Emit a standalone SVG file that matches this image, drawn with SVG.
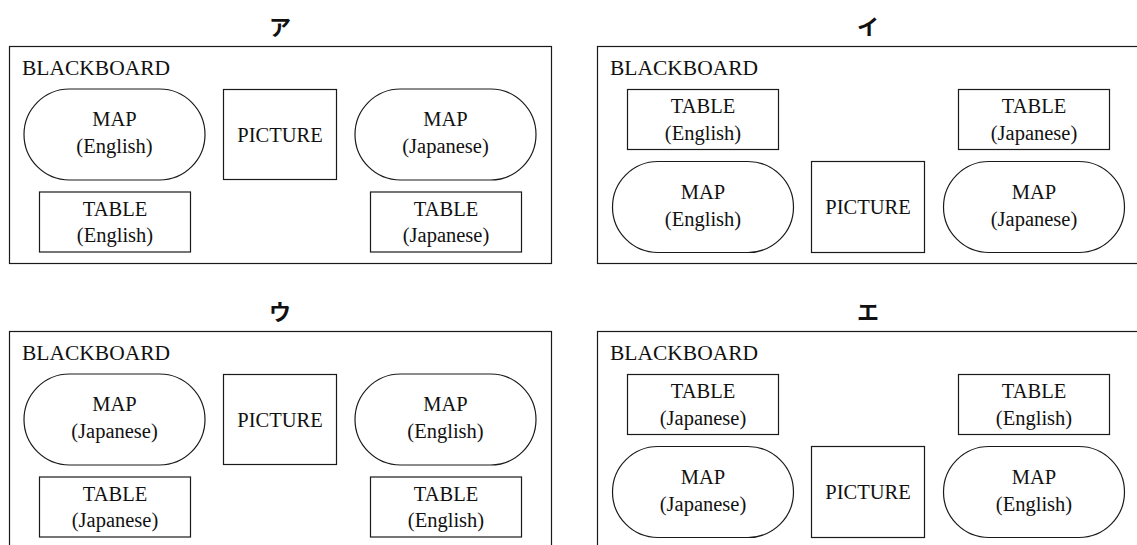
<svg xmlns="http://www.w3.org/2000/svg" width="1137" height="545" viewBox="0 0 1137 545">
<style>
.bg{fill:#fff}
.box{fill:none;stroke:#1a1a1a;stroke-width:1.2}
.node{fill:#fff;stroke:#1a1a1a;stroke-width:1.2}
.t{font-family:"Liberation Serif","Times New Roman","DejaVu Serif",serif;font-size:20.5px;fill:#111;text-anchor:middle}
.bb{font-family:"Liberation Serif","Times New Roman","DejaVu Serif",serif;font-size:21.5px;fill:#111}
.title{font-family:"Noto Sans CJK JP","Noto Sans",sans-serif;font-size:22px;font-weight:700;fill:#111;text-anchor:middle}
</style>
<rect class="bg" x="0" y="0" width="1137" height="545"/>

<!-- Panel ア -->
<g id="panel-a">
  <text class="title" x="280" y="35">ア</text>
  <rect class="box" x="9.5" y="46.5" width="542" height="217"/>
  <text class="bb" x="22" y="75" font-family="Liberation Serif, serif">BLACKBOARD</text>
  <g id="a-map-en"><rect class="node" x="24" y="89" width="181" height="91" rx="45.5" ry="45.5"/><text class="t" x="114.5" y="126">MAP</text><text class="t" x="114.5" y="153">(English)</text></g>
  <g id="a-picture"><rect class="node" x="223.5" y="89.5" width="113" height="90"/><text class="t" x="280" y="142">PICTURE</text></g>
  <g id="a-map-ja"><rect class="node" x="355" y="89" width="181" height="91" rx="45.5" ry="45.5"/><text class="t" x="445.5" y="126">MAP</text><text class="t" x="445.5" y="153">(Japanese)</text></g>
  <g id="a-table-en"><rect class="node" x="39.5" y="192" width="151" height="60"/><text class="t" x="115" y="215.5">TABLE</text><text class="t" x="115" y="242">(English)</text></g>
  <g id="a-table-ja"><rect class="node" x="370.5" y="192" width="151" height="60"/><text class="t" x="446" y="215.5">TABLE</text><text class="t" x="446" y="242">(Japanese)</text></g>
</g>

<!-- Panel イ -->
<g id="panel-i" transform="translate(588,0)">
  <text class="title" x="280" y="35">イ</text>
  <rect class="box" x="9.5" y="46.5" width="542" height="217"/>
  <text class="bb" x="22" y="75">BLACKBOARD</text>
  <g id="i-table-en"><rect class="node" x="39.5" y="89.5" width="151" height="60"/><text class="t" x="115" y="113">TABLE</text><text class="t" x="115" y="139.5">(English)</text></g>
  <g id="i-table-ja"><rect class="node" x="370.5" y="89.5" width="151" height="60"/><text class="t" x="446" y="113">TABLE</text><text class="t" x="446" y="139.5">(Japanese)</text></g>
  <g id="i-map-en"><rect class="node" x="24.5" y="161.5" width="181" height="91" rx="45.5" ry="45.5"/><text class="t" x="115" y="198.5">MAP</text><text class="t" x="115" y="225.5">(English)</text></g>
  <g id="i-picture"><rect class="node" x="223.5" y="161.5" width="113" height="91"/><text class="t" x="280" y="214">PICTURE</text></g>
  <g id="i-map-ja"><rect class="node" x="355.5" y="161.5" width="181" height="91" rx="45.5" ry="45.5"/><text class="t" x="446" y="198.5">MAP</text><text class="t" x="446" y="225.5">(Japanese)</text></g>
</g>

<!-- Panel ウ -->
<g id="panel-u" transform="translate(0,285)">
  <text class="title" x="280" y="35">ウ</text>
  <rect class="box" x="9.5" y="46.5" width="542" height="217"/>
  <text class="bb" x="22" y="75">BLACKBOARD</text>
  <g id="u-map-ja"><rect class="node" x="24" y="89" width="181" height="91" rx="45.5" ry="45.5"/><text class="t" x="114.5" y="126">MAP</text><text class="t" x="114.5" y="153">(Japanese)</text></g>
  <g id="u-picture"><rect class="node" x="223.5" y="89.5" width="113" height="90"/><text class="t" x="280" y="142">PICTURE</text></g>
  <g id="u-map-en"><rect class="node" x="355" y="89" width="181" height="91" rx="45.5" ry="45.5"/><text class="t" x="445.5" y="126">MAP</text><text class="t" x="445.5" y="153">(English)</text></g>
  <g id="u-table-ja"><rect class="node" x="39.5" y="192" width="151" height="60"/><text class="t" x="115" y="215.5">TABLE</text><text class="t" x="115" y="242">(Japanese)</text></g>
  <g id="u-table-en"><rect class="node" x="370.5" y="192" width="151" height="60"/><text class="t" x="446" y="215.5">TABLE</text><text class="t" x="446" y="242">(English)</text></g>
</g>

<!-- Panel エ -->
<g id="panel-e" transform="translate(588,285)">
  <text class="title" x="280" y="35">エ</text>
  <rect class="box" x="9.5" y="46.5" width="542" height="217"/>
  <text class="bb" x="22" y="75">BLACKBOARD</text>
  <g id="e-table-ja"><rect class="node" x="39.5" y="89.5" width="151" height="60"/><text class="t" x="115" y="113">TABLE</text><text class="t" x="115" y="139.5">(Japanese)</text></g>
  <g id="e-table-en"><rect class="node" x="370.5" y="89.5" width="151" height="60"/><text class="t" x="446" y="113">TABLE</text><text class="t" x="446" y="139.5">(English)</text></g>
  <g id="e-map-ja"><rect class="node" x="24.5" y="161.5" width="181" height="91" rx="45.5" ry="45.5"/><text class="t" x="115" y="198.5">MAP</text><text class="t" x="115" y="225.5">(Japanese)</text></g>
  <g id="e-picture"><rect class="node" x="223.5" y="161.5" width="113" height="91"/><text class="t" x="280" y="214">PICTURE</text></g>
  <g id="e-map-en"><rect class="node" x="355.5" y="161.5" width="181" height="91" rx="45.5" ry="45.5"/><text class="t" x="446" y="198.5">MAP</text><text class="t" x="446" y="225.5">(English)</text></g>
</g>
<g id="connectors"/>
</svg>
